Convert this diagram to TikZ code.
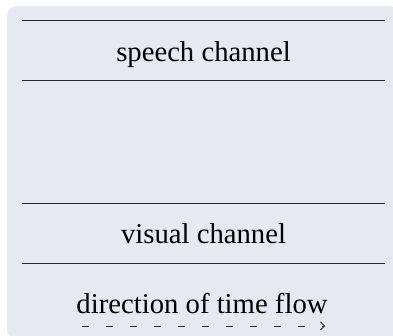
\documentclass[tikz,border=0pt]{standalone}
\usepackage{fontspec}
\setmainfont{Liberation Serif}
\usetikzlibrary{arrows.meta}
\definecolor{panelbg}{RGB}{232,232,242}
\definecolor{rulegray}{RGB}{40,40,40}
\begin{document}
\begin{tikzpicture}[x=1pt,y=1pt,
  rulestyle/.style={draw=rulegray,line width=1pt},
  channel/.style={anchor=base,inner sep=0pt,font=\fontsize{28.7}{34}\selectfont},
  flowarrow/.style={draw=rulegray,line width=0.8pt,dash pattern=on 7pt off 17pt,
    -{Straight Barb[length=4pt,width=8pt,line width=0.8pt]}}]
\useasboundingbox (0,0) rectangle (393,335);
% rounded panel behind everything
\fill[panelbg,rounded corners=10pt] (7,-5) rectangle (398,329);
% channel rules
\coordinate (s1l) at (22,314); \coordinate (s1r) at (385,314);
\coordinate (s2l) at (22,254); \coordinate (s2r) at (385,254);
\coordinate (v1l) at (22,132); \coordinate (v1r) at (385,132);
\coordinate (v2l) at (22,72);  \coordinate (v2r) at (385,72);
\draw[rulestyle] (s1l) -- (s1r);
\draw[rulestyle] (s2l) -- (s2r);
\draw[rulestyle] (v1l) -- (v1r);
\draw[rulestyle] (v2l) -- (v2r);
% labels
\node[channel] (speech) at (203.5,273) {speech channel};
\node[channel] (visual) at (203.5,92) {visual channel};
\node[channel] (flow) at (202,22) {direction of time flow};
% time arrow
\coordinate (fstart) at (82,9);
\coordinate (fend) at (325,9);
\draw[flowarrow] (fstart) -- (fend);
\end{tikzpicture}
\end{document}
